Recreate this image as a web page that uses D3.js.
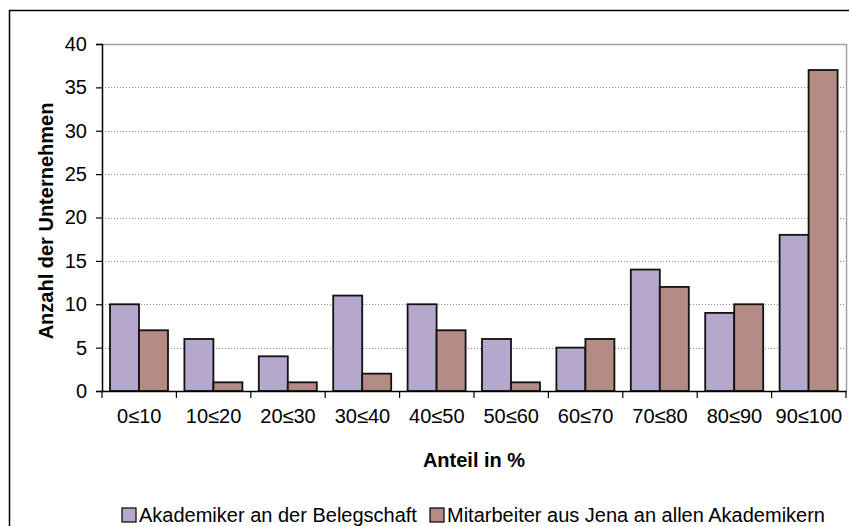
<!DOCTYPE html>
<html>
<head>
<meta charset="utf-8">
<script src="https://cdn.jsdelivr.net/npm/d3@7/dist/d3.min.js"></script>
<style>
  body { margin: 0; background: #fff; }
  text { font-family: "Liberation Sans", Arial, sans-serif; fill: #000; }
</style>
</head>
<body>
<svg id="chart" width="849" height="526"></svg>
<script>
// Anteil-Klassen (Prozent)
const categories = ["0≤10", "10≤20", "20≤30", "30≤40", "40≤50", "50≤60", "60≤70", "70≤80", "80≤90", "90≤100"];
const seriesNames = ["Akademiker an der Belegschaft", "Mitarbeiter aus Jena an allen Akademikern"];
const akademiker = [10, 6, 4, 11, 10, 6, 5, 14, 9, 18];
const mitarbeiterJena = [7, 1, 1, 2, 7, 1, 6, 12, 10, 37];
const yTicks = [0, 5, 10, 15, 20, 25, 30, 35, 40];
const colors = ["#b6a8cc", "#b48a85"];

const FONT = "20px";
const svg = d3.select("#chart");

// outer frame
svg.append("rect")
  .attr("x", 9.5).attr("y", 10.5)
  .attr("width", 860).attr("height", 540)
  .attr("fill", "none").attr("stroke", "#000").attr("stroke-width", 1.5);

const plot = { left: 102, right: 846, top: 44, bottom: 391 };

const x = d3.scaleBand().domain(categories).range([plot.left, plot.right]);
const inner = d3.scaleBand().domain([0, 1]).range([8, 66]);
const y = d3.scaleLinear().domain([0, 40]).range([plot.bottom, plot.top]);

// gridlines
svg.append("g").selectAll("line")
  .data(yTicks.filter(t => t > 0 && t < 40))
  .join("line")
  .attr("x1", plot.left).attr("x2", plot.right)
  .attr("y1", d => Math.round(y(d)) + 0.5).attr("y2", d => Math.round(y(d)) + 0.5)
  .attr("stroke", "#8c8c8c").attr("stroke-width", 1).attr("stroke-dasharray", "1,2");

// plot area border (top and right)
svg.append("path")
  .attr("d", `M${plot.left},${plot.top + 0.5}H${plot.right + 0.5}V${plot.bottom}`)
  .attr("fill", "none").attr("stroke", "#a0a0a0").attr("stroke-width", 1.5);

// bars
const data = categories.map((c, i) => ({ c, v: [akademiker[i], mitarbeiterJena[i]] }));
const groups = svg.append("g").selectAll("g").data(data).join("g")
  .attr("transform", d => `translate(${x(d.c)},0)`);
groups.selectAll("rect")
  .data(d => d.v.map((v, k) => ({ v, k })))
  .join("rect")
  .attr("x", d => inner(d.k))
  .attr("width", inner.bandwidth())
  .attr("y", d => y(d.v))
  .attr("height", d => y(0) - y(d.v))
  .attr("fill", d => colors[d.k])
  .attr("stroke", "#111").attr("stroke-width", 1.8);

// y axis
const yAxis = svg.append("g")
  .attr("transform", `translate(${plot.left},0)`)
  .call(d3.axisLeft(y).tickValues(yTicks).tickSize(6).tickPadding(9).tickFormat(d3.format("d")));
yAxis.select(".domain").attr("stroke", "#000").attr("stroke-width", 1.5);
yAxis.selectAll(".tick line").attr("stroke", "#000").attr("stroke-width", 1.2);
yAxis.selectAll("text").style("font-size", FONT).attr("fill", "#000");

// x axis
const xAxis = svg.append("g")
  .attr("transform", `translate(0,${plot.bottom})`)
  .call(d3.axisBottom(x).tickSize(0).tickPadding(18));
xAxis.select(".domain").attr("stroke", "#000").attr("stroke-width", 1.5);
xAxis.selectAll("text").style("font-size", FONT).attr("fill", "#000");
// tick marks between the categories
svg.append("g").selectAll("line")
  .data(d3.range(categories.length + 1))
  .join("line")
  .attr("x1", i => plot.left + i * x.step()).attr("x2", i => plot.left + i * x.step())
  .attr("y1", plot.bottom).attr("y2", plot.bottom + 7)
  .attr("stroke", "#000").attr("stroke-width", 1.2);

// axis titles
svg.append("text")
  .attr("transform", `translate(53,221) rotate(-90)`)
  .attr("text-anchor", "middle")
  .style("font-size", FONT).style("font-weight", "bold")
  .text("Anzahl der Unternehmen");
svg.append("text")
  .attr("x", (plot.left + plot.right) / 2).attr("y", 467)
  .attr("text-anchor", "middle")
  .style("font-size", FONT).style("font-weight", "bold")
  .text("Anteil in %");

// legend
const legendItems = [{ x: 122, k: 0 }, { x: 430, k: 1 }];
const lg = svg.append("g").selectAll("g").data(legendItems).join("g")
  .attr("transform", d => `translate(${d.x},508)`);
lg.append("rect").attr("width", 14).attr("height", 14)
  .attr("fill", d => colors[d.k]).attr("stroke", "#111").attr("stroke-width", 1.3);
lg.append("text").attr("x", 17).attr("y", 14)
  .style("font-size", FONT)
  .text(d => seriesNames[d.k]);
</script>
</body>
</html>
